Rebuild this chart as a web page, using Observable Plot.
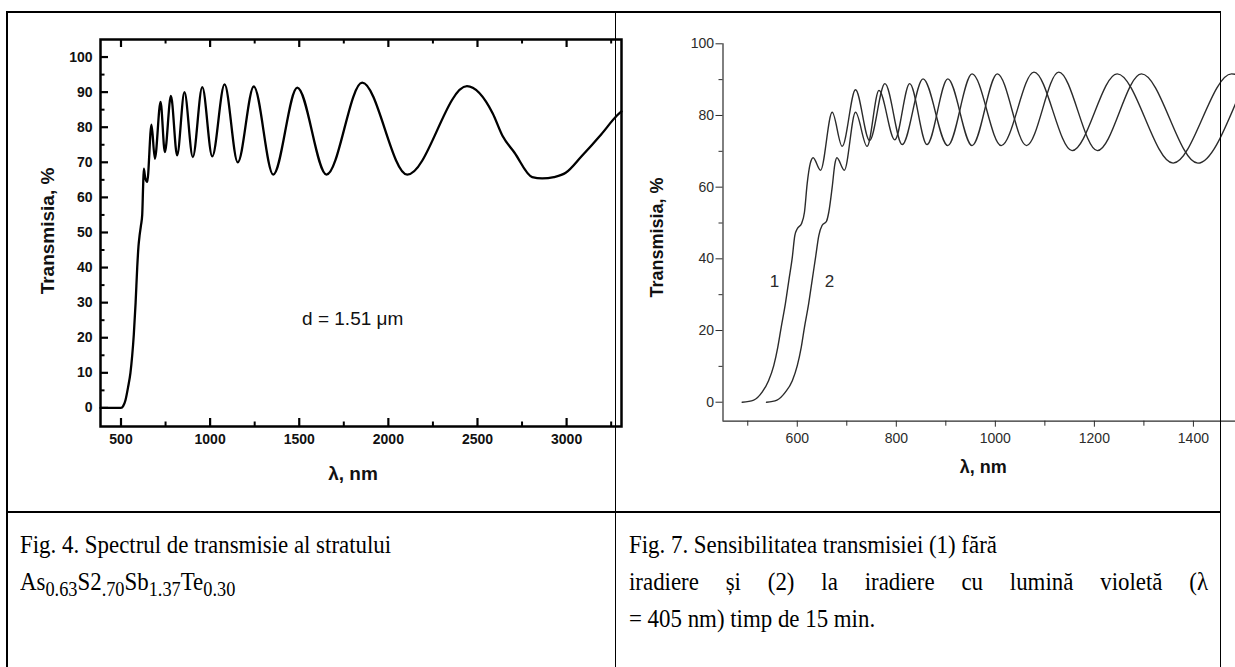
<!DOCTYPE html>
<html><head><meta charset="utf-8">
<script src="https://cdn.jsdelivr.net/npm/d3@7"></script>
<script src="https://cdn.jsdelivr.net/npm/@observablehq/plot@0.6"></script>
<style>
html,body{margin:0;padding:0;background:#fff;width:1235px;height:667px;overflow:hidden;}
#page{position:relative;width:1235px;height:667px;}
.abs{position:absolute;}
.bl{position:absolute;background:#000;z-index:10;}
.cap{position:absolute;font-family:"Liberation Serif","Times New Roman",serif;font-size:26px;line-height:26px;color:#000;white-space:nowrap;transform:scaleX(0.88);transform-origin:0 0;}
.cap sub{font-size:80%;vertical-align:baseline;position:relative;top:0.3em;}
.just{white-space:normal;text-align:justify;text-align-last:justify;}
</style></head><body><div id="page">
<div id="fig4" class="abs" style="left:0;top:0;width:640px;height:500px"></div>
<div id="fig7" class="abs" style="left:615px;top:0;width:620px;height:500px"></div>

<div class="bl" style="left:6px;top:11px;width:1215px;height:1.5px"></div>
<div class="bl" style="left:6px;top:11px;width:1.5px;height:660px"></div>
<div class="bl" style="left:614.5px;top:11px;width:1.5px;height:660px"></div>
<div class="bl" style="left:1219.5px;top:11px;width:1.5px;height:660px"></div>
<div class="bl" style="left:6px;top:510.5px;width:1215px;height:2px"></div>

<div class="cap" style="left:20px;top:532px">Fig. 4. Spectrul de transmisie al stratului</div>
<div class="cap" style="left:20px;top:569px">As<sub>0.63</sub>S2<sub>.70</sub>Sb<sub>1.37</sub>Te<sub>0.30</sub></div>
<div class="cap" style="left:629px;top:532px">Fig. 7. Sensibilitatea transmisiei (1) fără</div>
<div class="cap just" style="left:629px;top:569px;width:658px">iradiere și (2) la iradiere cu lumină violetă (λ</div>
<div class="cap" style="left:629px;top:606px">= 405 nm) timp de 15 min.</div>
</div>
<script>
// ---- Fig. 4 data: transmission spectrum ----
const lam4 = [385, 460, 500, 512, 525, 540, 553, 563, 572, 582, 591, 598, 604, 612, 619, 624, 628, 636, 647, 671, 690, 722, 746, 780, 815, 856, 903, 956, 1012, 1081, 1155, 1245, 1354, 1489, 1653, 1853, 2106, 2441, 2585, 2641, 2707, 2807, 2863, 2929, 2995, 3084, 3195, 3284, 3308];
const T4 = [0, 0, 0, 0.5, 2.2, 6, 10, 15, 21, 30, 40, 46, 49, 52, 55, 63, 68.2, 65.5, 64.4, 80.7, 71, 87.2, 72.9, 88.9, 72, 90, 71.5, 91.4, 71.7, 92.2, 70, 91.6, 66.5, 91.3, 66.5, 92.7, 66.5, 91.7, 84, 77.5, 72.8, 65.8, 65.4, 65.8, 67, 71.7, 78, 83.4, 84.5];
const xTicks4 = [500, 1000, 1500, 2000, 2500, 3000];
const xMinor4 = [750, 1250, 1750, 2250, 2750, 3250];
const yTicks4 = [0, 10, 20, 30, 40, 50, 60, 70, 80, 90, 100];
const yMinor4 = [5, 15, 25, 35, 45, 55, 65, 75, 85, 95];
const xDom4 = [385, 3308];
const yDom4 = [-5.3, 105];
const notes4 = [{x: 1800, y: 25.5, text: "d = 1.51 μm"}];

// ---- Fig. 7 data: curve 1 (no irradiation), curve 2 (irradiated) ----
const lam7a = [488.7, 512, 529, 542, 552.5, 560.6, 567.5, 576, 583, 590, 595, 600, 608.5, 614.5, 620, 626, 632, 647, 670.5, 690.7, 717.6, 746, 777, 812, 854, 904, 953, 1012, 1078, 1155, 1246, 1359, 1477, 1485];
const T7a = [0, 0.6, 2.8, 6, 10.2, 15.3, 20.9, 27.5, 34, 40.5, 46.5, 48.4, 49.8, 53, 61, 66.5, 68.2, 64.7, 80.9, 71.4, 87.2, 73, 88.9, 71.9, 90.2, 71.6, 91.6, 71.6, 92.1, 70.2, 91.6, 66.7, 91.6, 91.5];
const lam7b = [537.8, 559, 576, 590, 600, 608, 614.5, 623, 630, 637, 643.5, 650, 659, 663.6, 670.5, 676, 680, 695, 717.6, 741, 765, 797, 827, 862, 904, 953, 1004, 1063, 1128, 1206, 1295, 1409, 1485];
const T7b = [0, 0.6, 2.8, 6, 10.2, 15.3, 20.9, 27.5, 34, 40.5, 46.5, 49.3, 50.5, 53, 60, 66.5, 68.2, 64.7, 80.9, 71.4, 87, 73.2, 88.9, 71.9, 90.2, 71.6, 91.6, 71.6, 92.1, 70.2, 91.6, 66.7, 83.3];
const xTicks7 = [600, 800, 1000, 1200, 1400];
const xMinor7 = [500, 700, 900, 1100, 1300];
const yTicks7 = [0, 20, 40, 60, 80, 100];
const yMinor7 = [10, 30, 50, 70, 90];
const xDom7 = [450, 1485];
const yDom7 = [-5.3, 100];
const curveLabels7 = [{x: 554, y: 33.7, text: "1"}, {x: 665, y: 33.7, text: "2"}];

const fig4 = lam4.map((l, i) => ({lam: l, T: T4[i]}));
const fig7a = lam7a.map((l, i) => ({lam: l, T: T7a[i]}));
const fig7b = lam7b.map((l, i) => ({lam: l, T: T7b[i]}));

const sans = "'Liberation Sans', Arial, Helvetica, sans-serif";
const plain = d => String(d);

// ---- Left chart ----
const W4 = 640, H4 = 500, mL4 = 100, mR4 = 19, mT4 = 39, mB4 = 74;
const ph4 = H4 - mT4 - mB4, pw4 = W4 - mL4 - mR4;
const p4 = Plot.plot({
  width: W4, height: H4, marginLeft: mL4, marginRight: mR4, marginTop: mT4, marginBottom: mB4,
  style: {background: "transparent", overflow: "visible", fontFamily: sans, color: "#000"},
  x: {domain: xDom4},
  y: {domain: yDom4},
  marks: [
    Plot.tickX(xTicks4, {x: d => d, insetTop: ph4 - 8, stroke: "#000", strokeWidth: 2.2}),
    Plot.tickX(xTicks4, {x: d => d, insetBottom: ph4 - 8, stroke: "#000", strokeWidth: 2.2}),
    Plot.tickX(xMinor4, {x: d => d, insetTop: ph4 - 4.5, stroke: "#000", strokeWidth: 2}),
    Plot.tickX(xMinor4, {x: d => d, insetBottom: ph4 - 4.5, stroke: "#000", strokeWidth: 2}),
    Plot.tickY(yTicks4, {y: d => d, insetRight: pw4 - 8, stroke: "#000", strokeWidth: 2.2}),
    Plot.tickY(yMinor4, {y: d => d, insetRight: pw4 - 4.5, stroke: "#000", strokeWidth: 2}),
    Plot.frame({stroke: "#000", strokeWidth: 2.5}),
    Plot.axisX(xTicks4, {tickSize: 0, tickPadding: 8, tickFormat: plain, fontSize: 14, fontWeight: "bold", label: null, fill: "#111"}),
    Plot.axisY(yTicks4, {tickSize: 0, tickPadding: 8, tickFormat: plain, fontSize: 14, fontWeight: "bold", label: null, fill: "#111"}),
    Plot.line(fig4, {x: "lam", y: "T", curve: "monotone-x", stroke: "#000", strokeWidth: 2.3}),
    Plot.text(["Transmisia, %"], {text: d => d, frameAnchor: "left", textAnchor: "middle", lineAnchor: "middle", dx: -53, dy: -2, rotate: -90, fontSize: 19, fontWeight: "bold", fill: "#111"}),
    Plot.text(["λ, nm"], {text: d => d, frameAnchor: "bottom", textAnchor: "middle", lineAnchor: "middle", dx: -8, dy: 47, fontSize: 19, fontWeight: "bold", fill: "#111"}),
    Plot.text(notes4, {x: "x", y: "y", text: "text", fontSize: 19, fill: "#111"})
  ]
});
document.getElementById("fig4").appendChild(p4);

// ---- Right chart ----
const W7 = 620, H7 = 500, mL7 = 107.5, mR7 = 0, mT7 = 43.3, mB7 = 79.3;
const ink = "#2b2b2b";
const p7 = Plot.plot({
  width: W7, height: H7, marginLeft: mL7, marginRight: mR7, marginTop: mT7, marginBottom: mB7,
  style: {background: "transparent", overflow: "visible", fontFamily: sans, color: ink},
  x: {domain: xDom7},
  y: {domain: yDom7},
  marks: [
    Plot.ruleX([xDom7[0]], {stroke: ink, strokeWidth: 1.2}),
    Plot.ruleY([yDom7[0]], {stroke: ink, strokeWidth: 1.2}),
    Plot.axisY(yTicks7, {tickSize: 7, tickPadding: 2, tickFormat: plain, fontSize: 14, label: null, color: ink}),
    Plot.axisY(yMinor7, {tickSize: 4, tickFormat: () => "", label: null, color: ink}),
    Plot.axisX(xTicks7, {tickSize: 6, tickPadding: 6, tickFormat: plain, fontSize: 14, label: null, color: ink}),
    Plot.axisX(xMinor7, {tickSize: 5, tickFormat: () => "", label: null, color: ink}),
    Plot.line(fig7a, {x: "lam", y: "T", curve: "monotone-x", stroke: ink, strokeWidth: 1.4}),
    Plot.line(fig7b, {x: "lam", y: "T", curve: "monotone-x", stroke: ink, strokeWidth: 1.4}),
    Plot.text(curveLabels7, {x: "x", y: "y", text: "text", fontSize: 17, fill: ink}),
    Plot.text(["Transmisia, %"], {text: d => d, frameAnchor: "left", textAnchor: "middle", lineAnchor: "middle", dx: -66, dy: 5, rotate: -90, fontSize: 18, fontWeight: "bold", fill: "#111"}),
    Plot.text(["λ, nm"], {text: d => d, frameAnchor: "bottom", textAnchor: "middle", lineAnchor: "middle", dx: 4, dy: 46, fontSize: 18, fontWeight: "bold", fill: "#111"})
  ]
});
document.getElementById("fig7").appendChild(p7);
</script>
</body></html>
